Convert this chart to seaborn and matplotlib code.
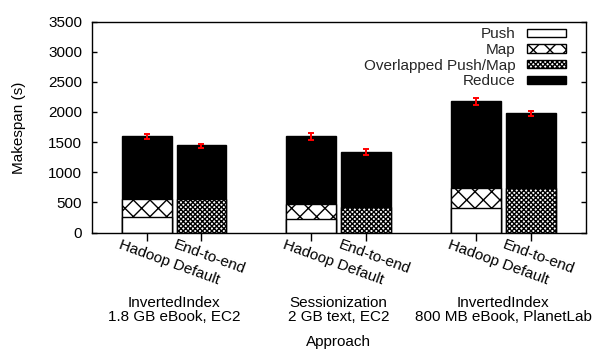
import matplotlib
matplotlib.use("Agg")
import matplotlib.pyplot as plt
import numpy as np
import pandas as pd
import seaborn as sns
from matplotlib.patches import Patch
from matplotlib.transforms import ScaledTranslation, blended_transform_factory

# ---------------- data ----------------
approaches = ["Hadoop Default", "End-to-end", "Hadoop Default", "End-to-end",
              "Hadoop Default", "End-to-end"]
positions = [0, 1, 3, 4, 6, 7]
group_centers = [0.5, 3.5, 6.5]
group_names = ["InvertedIndex", "Sessionization", "InvertedIndex"]
group_details = ["1.8 GB eBook, EC2", "2 GB text, EC2", "800 MB eBook, PlanetLab"]

push = [262, 0, 219, 0, 401, 0]
map_phase = [294, 0, 254, 0, 332, 0]
overlapped = [0, 551, 0, 428, 0, 738]
reduce_phase = [1044, 895, 1127, 902, 1447, 1249]

err_mean = [1590, 1430, 1590, 1330, 2170, 1978]
err_half = [45, 30, 55, 50, 55, 40]

yticks = [0, 500, 1000, 1500, 2000, 2500, 3000, 3500]
legend_labels = ["Push", "Map", "Overlapped Push/Map", "Reduce"]

# ---------------- build table ----------------
df = pd.DataFrame({
    "pos": positions,
    "approach": approaches,
    "push": push,
    "map": map_phase,
    "overlapped": overlapped,
    "reduce": reduce_phase,
})
df["top_push"] = df["push"]
df["top_map"] = df["push"] + df["map"]
df["top_over"] = df["overlapped"]
df["top_total"] = df["push"] + df["map"] + df["overlapped"] + df["reduce"]

sns.set_theme(style="white")
plt.rcParams["font.family"] = ["Liberation Sans", "DejaVu Sans"]
plt.rcParams["hatch.linewidth"] = 1.0

FS = 11
MAP_HATCH = "xx"
OVER_HATCH = "xxxxxxx"

fig = plt.figure(figsize=(6.02, 3.5), dpi=100)
ax = fig.add_axes([91.7 / 602, 1 - 232.5 / 350, 494 / 602, 211 / 350])

W = 0.91
common = dict(x="pos", native_scale=True, width=W, saturation=1,
              errorbar=None, linewidth=1.0, edgecolor="black", ax=ax)

sns.barplot(data=df, y="top_total", color="black", **common)
sns.barplot(data=df, y="top_map", color="white", hatch=MAP_HATCH, **common)
sns.barplot(data=df, y="top_over", color="white", hatch=OVER_HATCH, **common)
sns.barplot(data=df, y="top_push", color="white", **common)

ax.errorbar(df["pos"], err_mean, yerr=err_half, fmt="none", ecolor="red",
            elinewidth=1.4, capsize=2.5, capthick=1.4, zorder=5)

# ---------------- axes styling ----------------
ax.set_xlim(-1, 8)
ax.set_ylim(0, 3500)
ax.set_yticks(yticks)
ax.set_yticklabels([str(v) for v in yticks])
ax.set_xticks(positions)
ax.set_xticklabels(approaches, rotation=-20, ha="left", va="top",
                   rotation_mode="anchor")
ax.set_xlabel("")
ax.set_ylabel("")

for s in ax.spines.values():
    s.set_visible(True)
    s.set_color("black")
    s.set_linewidth(1.0)

ax.tick_params(axis="y", direction="in", length=3.8, width=1.0, pad=7,
               left=True, right=True, labelsize=FS, colors="black")
ax.tick_params(axis="x", direction="out", length=6, width=1.0, pad=0,
               bottom=True, top=False, labelsize=FS, colors="black")

offset = ScaledTranslation(-25 / 100, 3 / 100, fig.dpi_scale_trans)
for lab in ax.get_xticklabels():
    lab.set_transform(lab.get_transform() + offset)

# group labels
trans = blended_transform_factory(ax.transData, ax.transAxes)
for xc, nm, dt in zip(group_centers, group_names, group_details):
    ax.text(xc, (232.5 - 303.3) / 211, nm, transform=trans, ha="center",
            va="center", fontsize=FS, color="black")
    ax.text(xc, (232.5 - 317.0) / 211, dt, transform=trans, ha="center",
            va="center", fontsize=FS, color="black")

ax.set_ylabel("Makespan (s)", fontsize=FS, color="black")
ax.yaxis.set_label_coords((26.5 - 91.7) / 494, (232.5 - 128) / 211)
ax.set_xlabel("Approach", fontsize=FS, color="black")
ax.xaxis.set_label_coords(0.5, (232.5 - 335.0) / 211)

# legend
handles = [
    Patch(facecolor="white", edgecolor="black", linewidth=1.0),
    Patch(facecolor="white", edgecolor="black", hatch=MAP_HATCH, linewidth=1.0),
    Patch(facecolor="white", edgecolor="black", hatch=OVER_HATCH, linewidth=1.0),
    Patch(facecolor="black", edgecolor="black", linewidth=1.0),
]
ax.legend(handles, legend_labels, loc="upper right",
          bbox_to_anchor=((565.7 - 91.7) / 494, (232.5 - 27.5) / 211),
          frameon=False, markerfirst=False, fontsize=FS,
          handlelength=2.55, handleheight=0.45, handletextpad=0.75,
          labelspacing=0.1, borderpad=0, borderaxespad=0)

fig.savefig("out.png", dpi=100)
